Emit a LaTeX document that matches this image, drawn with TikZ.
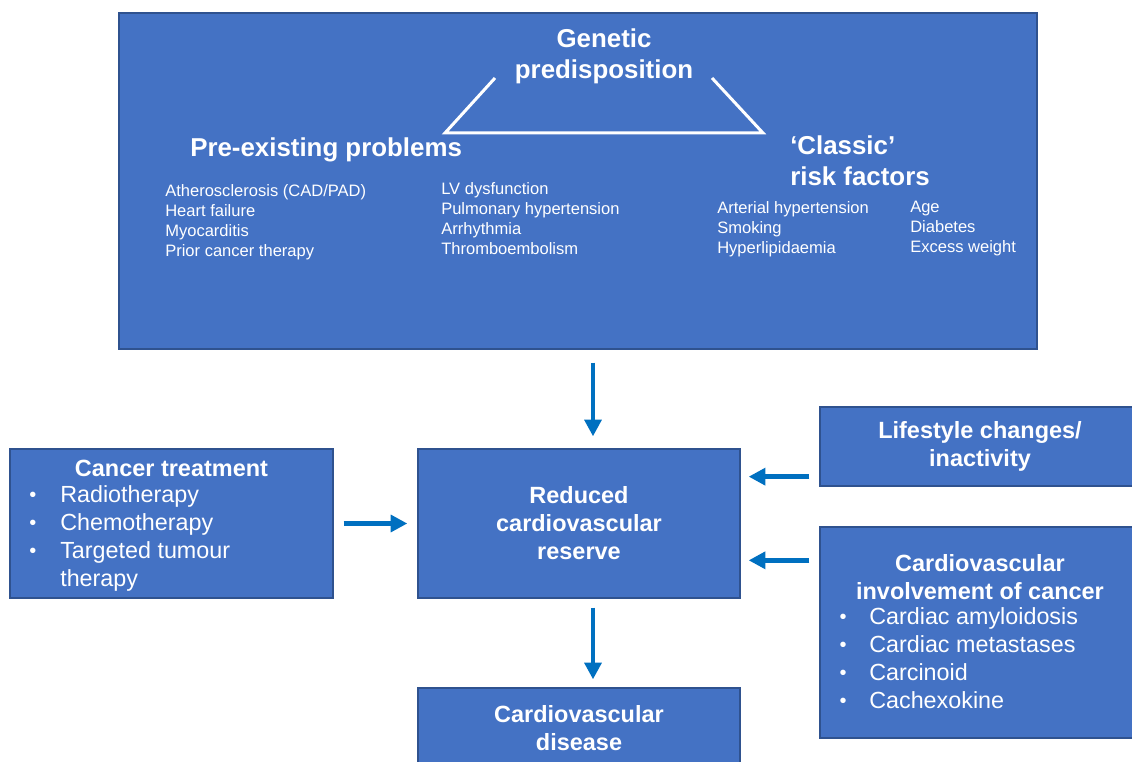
\documentclass[tikz,border=0pt]{standalone}
\usepackage{fontspec}
\setmainfont{Liberation Sans}
\usetikzlibrary{arrows.meta,calc}

\definecolor{boxblue}{HTML}{4472C4}
\definecolor{boxline}{HTML}{2F528F}
\definecolor{arrowblue}{HTML}{0070C0}

\tikzset{
  box/.style={draw=boxline, fill=boxblue, line width=1pt, inner sep=0pt},
  bighead/.style={text=white, font=\fontsize{19.4}{23.3}\selectfont\bfseries, inner sep=0pt},
  smalltxt/.style={text=white, font=\fontsize{12.4}{15}\selectfont, align=left, anchor=west, inner sep=0pt},
  boxhead/.style={text=white, font=\fontsize{17.6}{21}\selectfont\bfseries, align=center, inner sep=0pt},
  boxtxt/.style={text=white, font=\fontsize{17.5}{21}\selectfont, anchor=west, inner sep=0pt,
    text height=12.6pt, text depth=3.7pt},
  dot/.style={text=white, font=\fontsize{15}{15}\selectfont, inner sep=0pt},
  flow/.style={draw=arrowblue, line width=3.5pt, -{Triangle[length=12.5pt,width=12.5pt]}},
}

\begin{document}
\begin{tikzpicture}[x=0.75pt, y=-0.75pt]
   \useasboundingbox (0,0) rectangle (1132,762);
   \clip (0,0) rectangle (1132,762);
   \fill[white] (0,0) rectangle (1132,762);

   % risk factors box
   \node[box, minimum width=688.5pt, minimum height=252pt] (top) at (578,181) {};
   \node[bighead, align=center] (gen) at (604,56) {Genetic\\predisposition};
   \node[bighead, anchor=west] (pre) at (190,150) {Pre-existing problems};
   \node[bighead, anchor=west, align=left] (cls) at (790,161) {‘Classic’\\risk factors};
   \coordinate (ta) at (495,78);
   \coordinate (tb) at (445,133);
   \coordinate (tc) at (763,133);
   \coordinate (td) at (712,78);
   \draw[white, line width=2.25pt] (ta) -- (tb) -- (tc) -- (td);
   \node[smalltxt] (prea) at (165,222) {Atherosclerosis (CAD/PAD)\\Heart failure\\Myocarditis\\Prior cancer therapy};
   \node[smalltxt] (preb) at (441,218.5) {LV dysfunction\\Pulmonary hypertension\\Arrhythmia\\Thromboembolism};
   \node[smalltxt] (clsa) at (717,229) {Arterial hypertension\\Smoking\\Hyperlipidaemia};
   \node[smalltxt] (clsb) at (910,229) {Age\\Diabetes\\Excess weight};

   % cancer treatment
   \node[box, minimum width=242.25pt, minimum height=111.75pt] (cancer) at (171.5,523.5) {};
   \node[boxhead] (canhead) at (171.5,468) {Cancer treatment};
   \foreach \t/\y in {Radiotherapy/497, Chemotherapy/525, Targeted tumour/553} {
    \node[dot] at (33,\y) {•};
    \node[boxtxt] at (60,\y) {\t};
   }
   \node[boxtxt] at (60,581) {therapy};

   % centre column
   \node[box, boxhead, minimum width=241.5pt, minimum height=111.75pt] (red) at (579,523.5) {Reduced\\cardiovascular\\reserve};
   \node[box, boxhead, minimum width=241.5pt, minimum height=60pt] (cvd) at (579,728) {Cardiovascular\\disease};

   % right column
   \node[box, boxhead, minimum width=240pt, minimum height=59.25pt] (life) at (980,446.5) {Lifestyle changes/\\inactivity};
   \node[box, minimum width=240pt, minimum height=158.25pt] (inv) at (980,632.5) {};
   \node[boxhead] (invhead) at (980,577) {Cardiovascular\\involvement of cancer};
   \foreach \t/\y in {Cardiac amyloidosis/619, Cardiac metastases/647, Carcinoid/675, Cachexokine/703} {
    \node[dot] at (843,\y) {•};
    \node[boxtxt] at (869,\y) {\t};
   }

   % arrows
   \coordinate (a1) at ($(top.south)+(15,0)$);
   \draw[flow, shorten <=9.75pt, shorten >=9pt] (a1) -- (a1 |- red.north);
   \coordinate (a2) at ($(red.south)+(14,0)$);
   \draw[flow, shorten <=6.75pt, shorten >=6pt] (a2) -- (a2 |- cvd.north);
   \draw[flow, shorten <=7.5pt, shorten >=7.5pt] (cancer.east) -- (red.west);
   \coordinate (a3) at ($(life.south west)+(0,-10)$);
   \draw[flow, shorten <=7.5pt, shorten >=6pt] (a3) -- (a3 -| red.east);
   \coordinate (a4) at ($(inv.north west)+(0,34)$);
   \draw[flow, shorten <=7.5pt, shorten >=6pt] (a4) -- (a4 -| red.east);
\end{tikzpicture}
\end{document}
